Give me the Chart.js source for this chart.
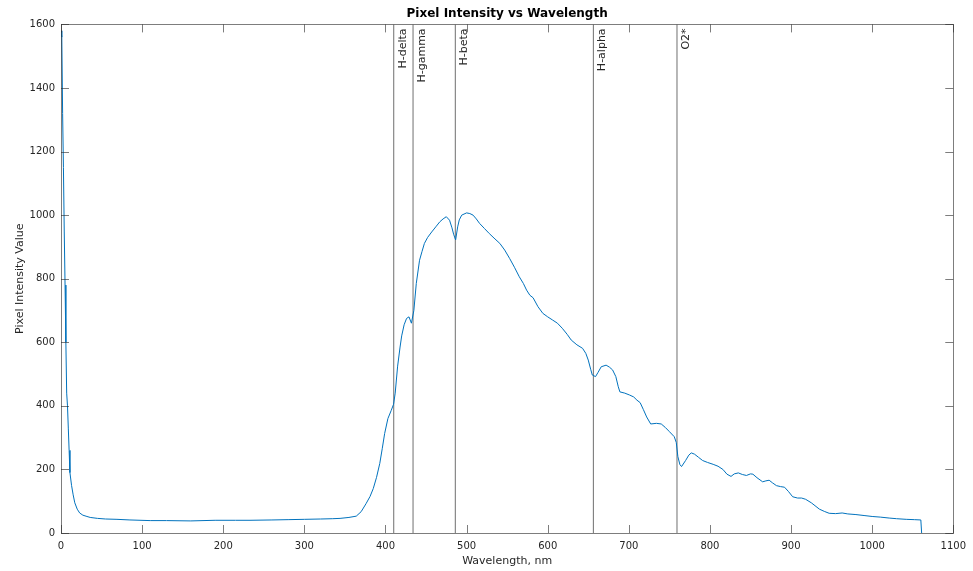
<!DOCTYPE html>
<html><head><meta charset="utf-8">
<script src="https://cdn.jsdelivr.net/npm/chart.js@4/dist/chart.umd.min.js"></script>
<style>html,body{margin:0;padding:0;background:#fff;overflow:hidden}</style>
</head><body>
<canvas id="c" width="973" height="571"></canvas>
<script>
// ---- data ----
const wavelengths = [0,1,2,3,4,5,6,7,8,9,10,11,13,15,17,20,23,27,32,36,45,55,69,85,110,130,160,190,215,233,260,280,300,320,335,344,355,364,370,376,381,385,389,393,396,399,403,407,410,412,415,418,420,423,426,429,432,435,438,442,445,448,452,457,462,467,471,475,479,482,484,486.5,489,491,494,500,504,508,512,516,522,528,535,541,547,553,559,565,570,574,578,582,588,594,600,606,612,618,624,629,636,643,647,650,653,655,659,662,666,672,676,680,684,687,689,695,701,706,710,714,718,722,727,734,740,745,750,756,758.5,760.5,763,765,770,774,777,781,786,791,797,804,810,816,821,826,830,835,840,845,850,853,858,865,869,873,877,882,887,892,897,902,908,913,918,925,935,941,947,955,963,970,980,990,1000,1010,1021,1030,1042,1052,1060,1061];
const intensities = [1580,1560,1320,1150,950,780,600,440,400,330,260,190,150,120,95,75,63,56,52,49,46,44,43,41,39,39,38,40,40,40,41,42,43,44,45,46,49,53,67,92,115,140,175,219,265,313,360,385,405,440,525,585,620,655,675,680,660,700,785,858,885,911,930,947,963,979,988,995,984,960,940,922,963,985,1000,1007,1005,1000,988,974,958,942,925,911,890,864,836,806,785,764,748,740,712,691,680,670,660,644,625,607,592,581,565,544,515,497,492,505,523,528,522,513,492,460,444,440,434,428,418,410,388,365,343,345,343,332,319,303,285,240,215,209,228,245,252,248,238,228,222,216,210,200,185,178,186,189,184,181,186,185,174,161,164,166,158,149,146,144,130,114,110,110,106,95,75,68,62,61,63,60,58,55,52,50,47,45,43,42,41,0];
const lineWavelengths = [410.2, 434.0, 486.1, 656.3, 759.4];
const lineLabels = ['H-delta', 'H-gamma', 'H-beta', 'H-alpha', 'O2*'];
const xMin = 0, xMax = 1100, xStep = 100;
const yMin = 0, yMax = 1600, yStep = 200;
const titleText = 'Pixel Intensity vs Wavelength';
const xTitle = 'Wavelength, nm';
const yTitle = 'Pixel Intensity Value';

const FONT = 'DejaVu Sans';
const AX = '#262626';

const spectrum = wavelengths.map((w, i) => ({x: w, y: intensities[i]}));
const markerSets = lineWavelengths.map((w, i) => ({
  label: lineLabels[i],
  data: [{x: w, y: yMin}, {x: w, y: yMax}],
  borderColor: '#6f6f6f', borderWidth: 1, pointRadius: 0, tension: 0
}));

const decor = {
  id: 'decor',
  afterDatasetsDraw(chart) {
    const {ctx, chartArea: a, scales: {x, y}} = chart;
    ctx.save();
    // marker labels
    ctx.fillStyle = AX;
    ctx.font = '11px "' + FONT + '"';
    ctx.textAlign = 'right';
    ctx.textBaseline = 'alphabetic';
    lineWavelengths.forEach((w, i) => {
      const px = x.getPixelForValue(w);
      ctx.save();
      ctx.translate(px + 12, a.top + 4);
      ctx.rotate(-Math.PI / 2);
      ctx.fillText(lineLabels[i], 0, 0);
      ctx.restore();
    });
    // box
    ctx.strokeStyle = AX;
    ctx.lineWidth = 1;
    ctx.globalAlpha = 0.6;
    ctx.strokeRect(Math.round(a.left) + 0.5, Math.round(a.top) + 0.5, Math.round(a.right - a.left), Math.round(a.bottom - a.top));
    // inward ticks
    const tl = 8;
    ctx.beginPath();
    x.ticks.forEach(t => {
      const px = Math.round(x.getPixelForValue(t.value)) + 0.5;
      ctx.moveTo(px, a.bottom); ctx.lineTo(px, a.bottom - tl);
      ctx.moveTo(px, a.top); ctx.lineTo(px, a.top + tl);
    });
    y.ticks.forEach(t => {
      const py = Math.round(y.getPixelForValue(t.value)) + 0.5;
      ctx.moveTo(a.left, py); ctx.lineTo(a.left + tl, py);
      ctx.moveTo(a.right, py); ctx.lineTo(a.right - tl, py);
    });
    ctx.stroke();
    ctx.restore();
  }
};

new Chart(document.getElementById('c'), {
  type: 'line',
  data: {
    datasets: [{
      label: 'Spectrum',
      data: spectrum,
      borderColor: '#0072BD', borderWidth: 1, pointRadius: 0, tension: 0
    }, ...markerSets]
  },
  options: {
    responsive: false,
    animation: false,
    devicePixelRatio: 1,
    layout: {padding: {left: 0, right: 19, top: 0, bottom: 0}},
    plugins: {
      legend: {display: false},
      tooltip: {enabled: false},
      title: {
        display: true, text: titleText, color: '#000', fullSize: false,
        font: {family: FONT, size: 12, weight: 'bold'},
        padding: {top: 7, bottom: 3}
      }
    },
    scales: {
      x: {
        type: 'linear', min: xMin, max: xMax,
        border: {display: false},
        grid: {display: false, drawTicks: false},
        ticks: {stepSize: xStep, color: AX, font: {family: FONT, size: 10}, padding: 7, maxRotation: 0, autoSkip: false,
                callback: v => String(v)},
        title: {display: true, text: xTitle, color: AX, font: {family: FONT, size: 11}, padding: {top: 0, bottom: 3}},
        afterFit(s) { s.height = 38; }
      },
      y: {
        type: 'linear', min: yMin, max: yMax,
        border: {display: false},
        grid: {display: false, drawTicks: false},
        ticks: {stepSize: yStep, color: AX, font: {family: FONT, size: 10}, padding: 6, autoSkip: false,
                callback: v => String(v)},
        title: {display: true, text: yTitle, color: AX, font: {family: FONT, size: 11}, padding: {top: 14, bottom: 0}},
        afterFit(s) { s.width = 61; }
      }
    }
  },
  plugins: [decor]
});
</script>
</body></html>
